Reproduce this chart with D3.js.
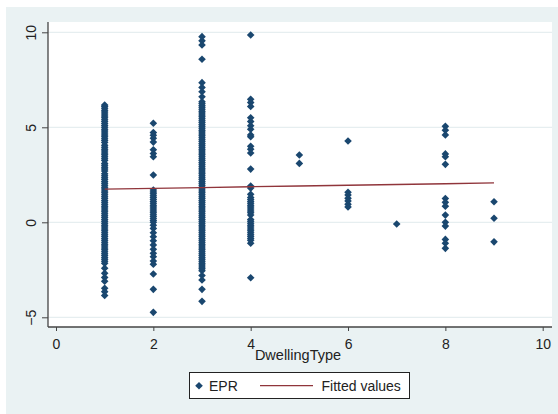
<!DOCTYPE html>
<html>
<head>
<meta charset="utf-8">
<script src="https://cdn.jsdelivr.net/npm/d3@7"></script>
<style>
  body { margin: 0; background: #fff; }
  text { font-family: "Liberation Sans", Arial, sans-serif; fill: #222; }
</style>
</head>
<body>
<svg id="canvas"></svg>
<script>
const width = 558;
const height = 414;

// EPR values by dwelling type
const type1 = [6.17, 6.1, 6.0, 5.9, 5.8, 5.7, 5.6, 5.5, 5.4, 5.3, 5.2, 5.1, 5.0, 4.9, 4.8, 4.7, 4.6, 4.5,
  4.4, 4.3, 4.2, 4.05, 3.95, 3.85, 3.75, 3.65, 3.55, 3.45, 3.35, 3.25, 3.1, 3.0, 2.9, 2.8, 2.7, 2.55, 2.45,
  2.35, 2.25, 2.15, 2.05, 1.95, 1.85, 1.75, 1.65, 1.55, 1.45, 1.35, 1.25, 1.15, 1.05, 0.95, 0.85, 0.75,
  0.65, 0.55, 0.45, 0.35, 0.25, 0.15, 0.05, -0.05, -0.15, -0.25, -0.35, -0.45, -0.55, -0.65, -0.75, -0.85,
  -0.95, -1.05, -1.15, -1.25, -1.35, -1.45, -1.55, -1.65, -1.75, -1.85, -1.95, -2.05, -2.16,
  -2.42, -2.68, -2.9, -3.1, -3.47, -3.65, -3.85];
const type2 = [5.21, 4.72, 4.58, 4.42, 4.22, 3.82, 3.62, 3.45, 2.49, 1.7, 1.6, 1.5, 1.4, 1.3, 1.2, 1.1, 1.0,
  0.9, 0.8, 0.7, 0.6, 0.5, 0.4, 0.3, 0.2, 0.1, 0.0, -0.15, -0.32, -0.55, -0.76, -0.97, -1.19, -1.42, -1.63,
  -1.81, -2.04, -2.21, -2.72, -3.53, -4.74];
const type3 = [9.77, 9.55, 9.33, 8.58, 7.35, 7.1, 6.87, 6.61, 6.35, 6.25, 6.15, 6.05, 5.95, 5.85, 5.75, 5.65,
  5.55, 5.45, 5.35, 5.25, 5.15, 5.05, 4.95, 4.85, 4.75, 4.65, 4.55, 4.45, 4.35, 4.25, 4.15, 4.05, 3.95, 3.85,
  3.75, 3.65, 3.55, 3.45, 3.35, 3.25, 3.15, 3.05, 2.95, 2.85, 2.75, 2.65, 2.55, 2.45, 2.35, 2.25, 2.15, 2.05,
  1.95, 1.85, 1.75, 1.65, 1.55, 1.45, 1.35, 1.25, 1.15, 1.05, 0.95, 0.85, 0.75, 0.65, 0.55, 0.45, 0.35, 0.25,
  0.15, 0.05, -0.05, -0.15, -0.25, -0.35, -0.45, -0.55, -0.65, -0.75, -0.85, -0.95, -1.05, -1.15, -1.25,
  -1.35, -1.45, -1.55, -1.65, -1.75, -1.85, -1.95, -2.05, -2.15, -2.25, -2.35, -2.45, -2.55,
  -2.8, -3.04, -3.53, -4.16];
const type4 = [9.86, 6.47, 6.3, 6.1, 5.5, 5.3, 5.08, 4.9, 4.6, 4.5, 4.0, 3.85, 3.65, 2.8, 1.91, 1.8, 1.47,
  1.3, 1.2, 1.1, 1.0, 0.9, 0.8, 0.7, 0.6, 0.5, 0.38, 0.15, 0.05, -0.05, -0.15, -0.25, -0.35, -0.45, -0.55,
  -0.65, -0.75, -0.85, -0.95, -1.1, -2.92];
const type5 = [3.54, 3.1];
const type6 = [4.28, 1.58, 1.44, 1.26, 1.12, 0.95, 0.81];
const type7 = [-0.09];
const type8 = [5.05, 4.85, 4.6, 3.6, 3.45, 3.05, 1.25, 1.05, 0.85, 0.38, 0.0, -0.2, -0.9, -1.1, -1.37];
const type9 = [1.08, 0.21, -1.03];

const fittedX = [1, 2, 3, 4, 5, 6, 7, 8, 9];
const fittedY = [1.75, 1.79, 1.83, 1.87, 1.91, 1.95, 1.99, 2.03, 2.07];

const xTicks = [0, 2, 4, 6, 8, 10];
const yTicks = [-5, 0, 5, 10];

const groups = [type1, type2, type3, type4, type5, type6, type7, type8, type9];
const points = [];
groups.forEach((vals, i) => vals.forEach(v => points.push([i + 1, v])));

const navy = "#1a476f";
const maroon = "#90353b";

let svg = d3.select("#canvas")
            .attr("width", width)
            .attr("height", height);

// graph region
svg.append("rect")
   .attr("x", 6).attr("y", 7)
   .attr("width", width - 6).attr("height", height - 7)
   .attr("fill", "#eaf2f3");

const xScale = d3.scaleLinear().domain([0, 10]).range([56, 542.7]);
const yScale = d3.scaleLinear().domain([-5, 10]).range([317.3, 32.3]);

const plotL = 48, plotR = 552, plotT = 22, plotB = 327;

// plot region
svg.append("rect")
   .attr("x", plotL).attr("y", plotT)
   .attr("width", plotR - plotL).attr("height", plotB - plotT)
   .attr("fill", "#fff");

// grid lines
svg.append("g")
   .selectAll("line")
   .data(yTicks)
   .enter()
   .append("line")
   .attr("x1", plotL).attr("x2", plotR)
   .attr("y1", d => yScale(d)).attr("y2", d => yScale(d))
   .attr("stroke", "#e6eef0")
   .attr("stroke-width", 1.2);

// points
const diamond = "M0,-3.8L3.8,0L0,3.8L-3.8,0Z";
svg.append("g")
   .selectAll("path")
   .data(points)
   .enter()
   .append("path")
   .attr("d", diamond)
   .attr("transform", d => `translate(${xScale(d[0])},${yScale(d[1])})`)
   .attr("fill", navy);

// fitted line
svg.append("path")
   .datum(fittedX.map((x, i) => [x, fittedY[i]]))
   .attr("d", d3.line().x(d => xScale(d[0])).y(d => yScale(d[1])))
   .attr("fill", "none")
   .attr("stroke", maroon)
   .attr("stroke-width", 1.3);

// y axis
const yAxis = d3.axisLeft(yScale).tickValues(yTicks).tickSize(6).tickPadding(5);
const yg = svg.append("g")
   .attr("id", "y-axis")
   .attr("transform", `translate(${plotL}, 0)`)
   .call(yAxis);
yg.select(".domain").attr("d", `M0,${plotT}V${plotB}`);
yg.selectAll(".tick text")
  .attr("transform", "rotate(-90)")
  .attr("x", 0).attr("y", -12)
  .attr("dy", 0)
  .attr("text-anchor", "middle")
  .style("font-size", "14px");

// x axis
const xAxis = d3.axisBottom(xScale).tickValues(xTicks).tickSize(4).tickPadding(6);
const xg = svg.append("g")
   .attr("id", "x-axis")
   .attr("transform", `translate(0, ${plotB})`)
   .call(xAxis);
xg.select(".domain").attr("d", `M${plotL},0H${plotR}`);
xg.selectAll(".tick text")
  .attr("dy", 0).attr("y", 22)
  .style("font-size", "14px");

[yg, xg].forEach(g => {
  g.select(".domain").attr("stroke", "#444").attr("stroke-width", 1.3);
  g.selectAll(".tick line").attr("stroke", "#444");
  g.selectAll(".tick text").attr("fill", "#222").style("font-family", "Liberation Sans, Arial, sans-serif");
});

svg.append("text")
   .attr("x", 298).attr("y", 360)
   .attr("text-anchor", "middle")
   .style("font-size", "14.5px")
   .text("DwellingType");

// legend
const legend = svg.append("g");
legend.append("rect")
      .attr("x", 189.5).attr("y", 372.5)
      .attr("width", 220).attr("height", 26)
      .attr("fill", "#fff")
      .attr("stroke", "#222")
      .attr("stroke-width", 1);
legend.append("path")
      .attr("d", diamond)
      .attr("transform", "translate(199,385.7)")
      .attr("fill", navy);
legend.append("text")
      .attr("x", 209).attr("y", 390.5)
      .style("font-size", "14px")
      .text("EPR");
legend.append("line")
      .attr("x1", 260).attr("x2", 313)
      .attr("y1", 385.7).attr("y2", 385.7)
      .attr("stroke", maroon)
      .attr("stroke-width", 1.3);
legend.append("text")
      .attr("x", 321.5).attr("y", 390.5)
      .style("font-size", "14px")
      .text("Fitted values");
</script>
</body>
</html>
